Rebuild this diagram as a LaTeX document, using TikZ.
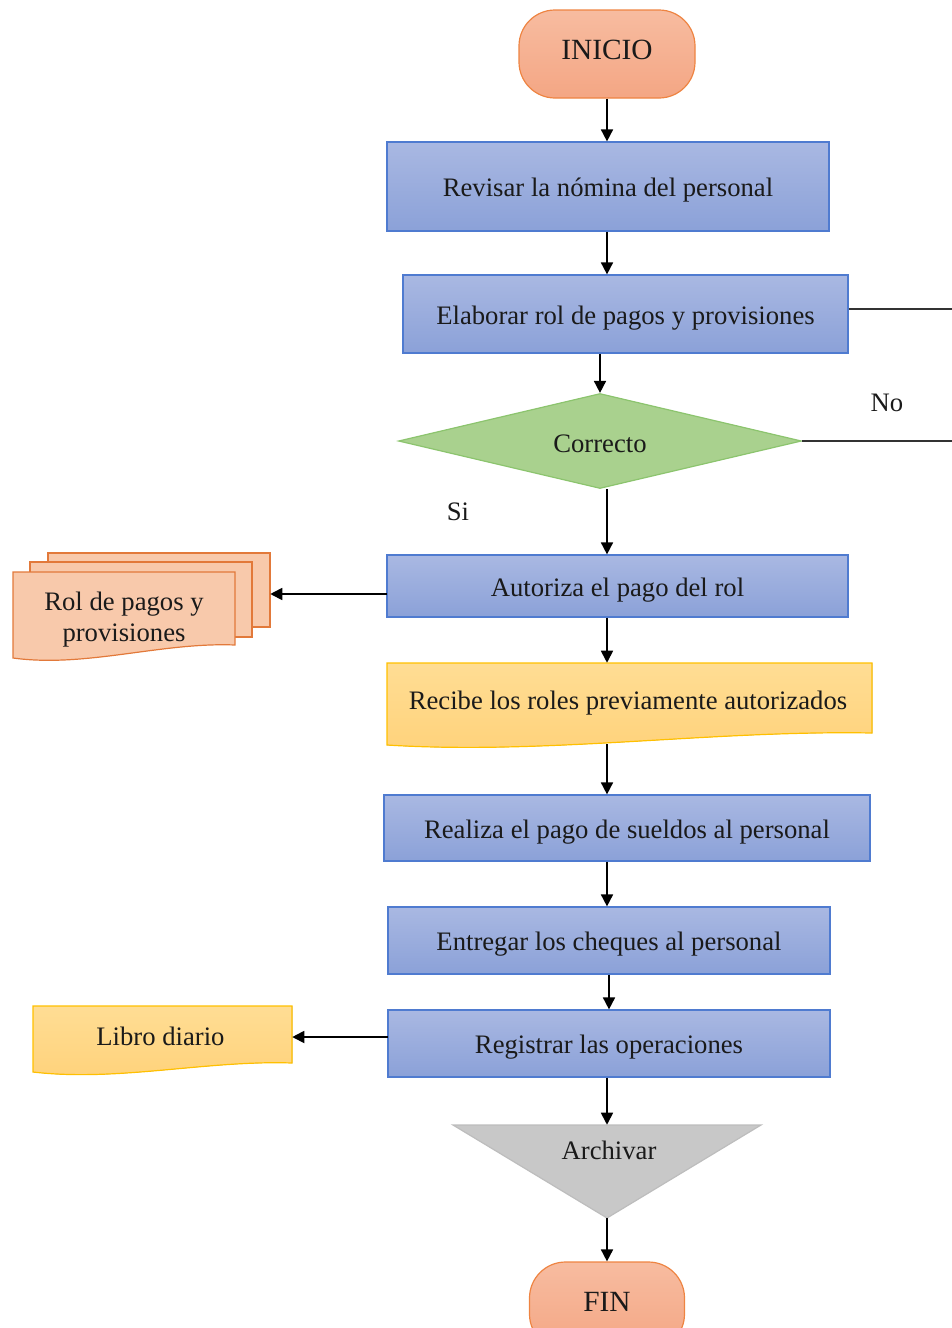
\documentclass[tikz,border=0pt]{standalone}
\usepackage{fontspec}
\setmainfont{Liberation Serif}
\usetikzlibrary{shapes.geometric,arrows.meta}
\definecolor{bluetop}{HTML}{A9B8E2}
\definecolor{bluebot}{HTML}{8BA1D8}
\definecolor{bluebd}{HTML}{4F7BD0}
\definecolor{orgtop}{HTML}{F7BCA0}
\definecolor{orgbot}{HTML}{F4A684}
\definecolor{orgbd}{HTML}{EE8442}
\definecolor{peach}{HTML}{F8C9AB}
\definecolor{peachbd}{HTML}{E2793A}
\definecolor{yeltop}{HTML}{FFDD94}
\definecolor{yelbot}{HTML}{FFD27A}
\definecolor{yelbd}{HTML}{FFC000}
\definecolor{grn}{HTML}{A9D18E}
\definecolor{grnbd}{HTML}{8CC46E}
\definecolor{gry}{HTML}{C8C8C8}
\definecolor{grybd}{HTML}{BDBDBD}
\definecolor{txt}{HTML}{1A1A1A}
\begin{document}
\begin{tikzpicture}[x=0.75pt,y=-0.75pt,
  fsz/.style={font=\fontsize{20}{23}\selectfont, text=txt},
  procbox/.style={draw=bluebd, line width=0.9pt, top color=bluetop, bottom color=bluebot, fsz, inner sep=0pt,
    text height=16pt, text depth=0.3pt},
  termbox/.style={draw=orgbd, line width=0.9pt, top color=orgtop, bottom color=orgbot,
    font=\fontsize{22}{25}\selectfont, text=txt, rounded corners=27pt, inner sep=0pt,
    text height=8pt, text depth=0.2pt},
  decbox/.style={diamond, draw=grnbd, line width=0.9pt, fill=grn, fsz, inner sep=0pt,
    text height=16.6pt, text depth=0pt},
  ghost/.style={draw=none, inner sep=0pt, fsz},
  lbl/.style={fsz},
  arr/.style={line width=1.3pt, draw=black, -{Triangle[width=9pt,length=9pt]}},
  plain/.style={line width=1.3pt, draw=black!80},
]
\useasboundingbox (0,0) rectangle (952,1328);
\clip (0,0) rectangle (952,1328);

% custom shapes
% multidocument
\filldraw[draw=peachbd, fill=peach, line width=0.9pt] (48,553) rectangle (270,627);
\filldraw[draw=peachbd, fill=peach, line width=0.9pt] (30,562) rectangle (252,637);
\filldraw[draw=peachbd, fill=peach, line width=0.9pt]
  (13,658) -- (13,572) -- (235,572) -- (235,645)
  .. controls (161,642) and (86,668) .. (13,658) -- cycle;
% document Recibe
\filldraw[draw=yelbd, top color=yeltop, bottom color=yelbot, line width=0.9pt]
  (387,745) -- (387,663) -- (872,663) -- (872,733)
  .. controls (712,730) and (547,755) .. (387,745) -- cycle;
% document Libro diario
\filldraw[draw=yelbd, top color=yeltop, bottom color=yelbot, line width=0.9pt]
  (33,1072) -- (33,1006) -- (292,1006) -- (292,1063)
  .. controls (207,1060) and (118,1082) .. (33,1072) -- cycle;
% Archivar triangle
\filldraw[draw=grybd, fill=gry, line width=0.9pt] (453,1125) -- (761,1125) -- (607,1218) -- cycle;

% nodes
\node[termbox, minimum width=176*0.75pt, minimum height=88*0.75pt] (inicio) at (607,54) {INICIO};
\node[procbox, minimum width=442*0.75pt, minimum height=89*0.75pt] (revisar) at (608,186.5) {Revisar la nómina del personal};
\node[procbox, minimum width=445*0.75pt, minimum height=78*0.75pt] (elaborar) at (625.5,314) {Elaborar rol de pagos y provisiones};
\node[decbox, minimum width=403*0.75pt, minimum height=95*0.75pt, aspect=4.24] (dec) at (600,441) {Correcto};
\node[procbox, minimum width=461*0.75pt, minimum height=62*0.75pt] (autoriza) at (617.5,586) {Autoriza el pago del rol};
\node[ghost, minimum width=258*0.75pt, minimum height=110*0.75pt,
  label={[fsz, align=center, xshift=-17*0.75pt, yshift=-11.5*0.75pt]center:Rol de pagos y\\provisiones}] (rol) at (141,608) {};
\node[ghost, minimum width=485*0.75pt, minimum height=86*0.75pt,
  label={[fsz, xshift=-1.5*0.75pt, yshift=3*0.75pt]center:Recibe los roles previamente autorizados}] (recibe) at (629.5,706) {};
\node[procbox, minimum width=486*0.75pt, minimum height=66*0.75pt] (realiza) at (627,828) {Realiza el pago de sueldos al personal};
\node[procbox, minimum width=442*0.75pt, minimum height=67*0.75pt] (entregar) at (609,940.5) {Entregar los cheques al personal};
\node[procbox, minimum width=442*0.75pt, minimum height=67*0.75pt] (registrar) at (609,1043.5) {Registrar las operaciones};
\node[ghost, minimum width=259*0.75pt, minimum height=70*0.75pt,
  label={[fsz, xshift=-2*0.75pt, yshift=5*0.75pt]center:Libro diario}] (libro) at (162.5,1041) {};
\node[ghost, minimum width=308*0.75pt, minimum height=93*0.75pt,
  label={[fsz, xshift=2*0.75pt, yshift=21*0.75pt]center:Archivar}] (archivar) at (607,1171.5) {};
\node[termbox, minimum width=155*0.75pt, minimum height=88*0.75pt] (fin) at (607,1306) {FIN};

\node[lbl] (no) at (887,403) {No};
\node[lbl] (si) at (458,512) {Si};

% coordinates
\coordinate (spine) at (607,0);
\coordinate (edgeA) at (952,309);
\coordinate (edgeB) at (952,441);
\coordinate (autw) at (387,594);
\coordinate (regw) at (388,1037);

% connectors
\draw[arr] (inicio.south) -- (inicio.south |- revisar.north);
\draw[arr] (revisar.south -| spine) -- (elaborar.north -| spine);
\draw[plain] (elaborar.east |- edgeA) -- (edgeA);
\draw[arr] (elaborar.south -| dec.north) -- (dec.north);
\draw[plain] (dec.east) -- (edgeB);
\draw[arr] (dec.south -| spine) -- (autoriza.north -| spine);
\draw[arr] (autw) -- (autw -| rol.east);
\draw[arr] (autoriza.south -| spine) -- (recibe.north -| spine);
\draw[arr] ([yshift=4pt]recibe.south -| spine) -- (realiza.north -| spine);
\draw[arr] (realiza.south -| spine) -- (entregar.north -| spine);
\draw[arr] (entregar.south) -- (registrar.north);
\draw[arr] (regw) -- (regw -| libro.east);
\draw[arr] (registrar.south -| spine) -- (archivar.north -| spine);
\draw[arr] (archivar.south) -- (archivar.south |- fin.north);
\end{tikzpicture}
\end{document}
